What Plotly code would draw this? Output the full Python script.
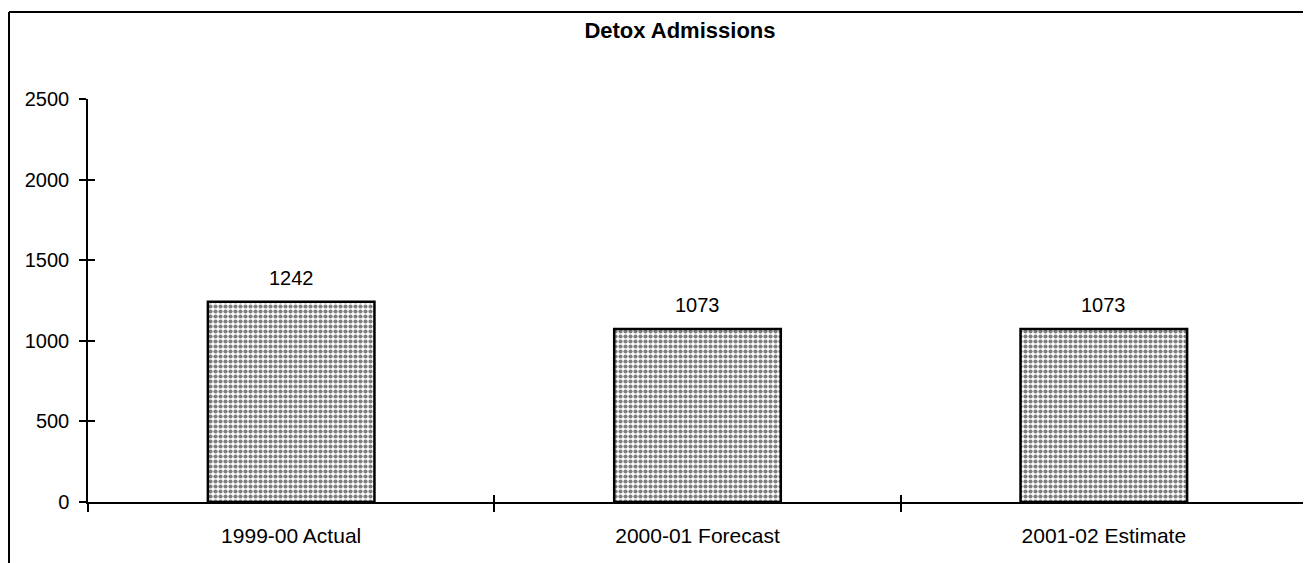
import plotly.graph_objects as go

# chart data
categories = ["1999-00 Actual", "2000-01 Forecast", "2001-02 Estimate"]
admissions = [1242, 1073, 1073]
y_ticks = [0, 500, 1000, 1500, 2000, 2500]

font_name = "Liberation Sans, Arial, sans-serif"

fig = go.Figure()
fig.add_trace(go.Bar(
    x=categories,
    y=admissions,
    marker=dict(
        color="white",
        line=dict(color="black", width=2.5),
        pattern=dict(shape=".", fgcolor="black", bgcolor="white", size=5, solidity=0.55),
    ),
))

# dummy trace so the overlay axes (inner half of the crossing ticks) get drawn
fig.add_trace(go.Scatter(x=[0], y=[0], xaxis="x2", yaxis="y2", mode="markers",
                         marker=dict(opacity=0), hoverinfo="skip"))

# value labels above the bars
for cat, val in zip(categories, admissions):
    fig.add_annotation(x=cat, y=val, text=str(val), showarrow=False,
                       yanchor="bottom", yshift=11, font=dict(size=20))

fig.update_layout(
    width=1303, height=555,
    margin=dict(l=80, r=4, t=91, b=61),
    paper_bgcolor="white", plot_bgcolor="white",
    font=dict(family=font_name, size=20, color="black"),
    showlegend=False,
    bargap=0.59,
    title=dict(text="<b>Detox Admissions</b>", font=dict(size=22),
               x=0.4856, xref="paper", xanchor="center",
               y=0.9604, yref="container", yanchor="middle"),
    xaxis=dict(
        showline=True, linecolor="black", linewidth=1.5,
        ticks="outside", ticklen=8, tickcolor="black", tickwidth=1.5,
        tickson="boundaries", showgrid=False, ticklabelstandoff=14,
        tickfont=dict(size=21),
    ),
    yaxis=dict(
        range=[0, 2500], tickvals=y_ticks,
        showline=True, linecolor="black", linewidth=1.5,
        ticks="outside", ticklen=7, tickcolor="black", tickwidth=1.5,
        showgrid=False, zeroline=False, ticklabelstandoff=6,
    ),
    xaxis2=dict(overlaying="x", anchor="y2", range=[-0.5, 2.5],
                tickvals=[-0.5, 0.5, 1.5, 2.5],
                ticks="inside", ticklen=7, tickwidth=1.5, tickcolor="black",
                showticklabels=False, showgrid=False, zeroline=False, side="bottom"),
    yaxis2=dict(overlaying="y", anchor="x2", range=[0, 2500], tickvals=y_ticks,
                ticks="inside", ticklen=7, tickwidth=1.5, tickcolor="black",
                showticklabels=False, showgrid=False, zeroline=False, side="left"),
)

# the frame around the chart (top and left edges)
fig.add_shape(type="line", xref="paper", yref="paper",
              x0=-0.0648, x1=1.01, y0=1.2159, y1=1.2159,
              line=dict(color="black", width=2))
fig.add_shape(type="line", xref="paper", yref="paper",
              x0=-0.0648, x1=-0.0648, y0=1.2159, y1=-0.16,
              line=dict(color="black", width=2))

fig.write_html("out.html")
